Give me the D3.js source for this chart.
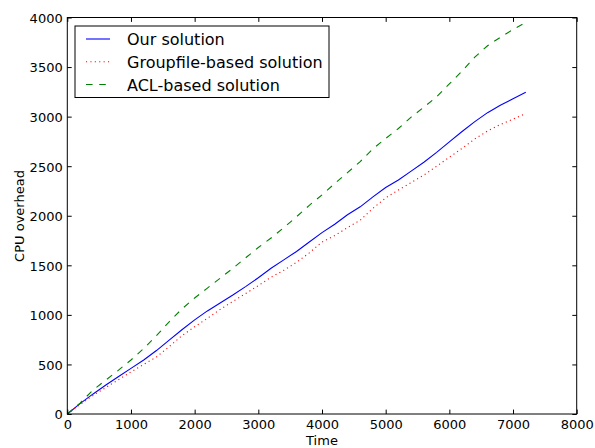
<!DOCTYPE html>
<html>
<head>
<meta charset="utf-8">
<script src="https://cdn.jsdelivr.net/npm/d3@7"></script>
<style>
  html, body { margin: 0; padding: 0; background: #fff; }
  svg { display: block; }
  text { font-family: "DejaVu Sans", sans-serif; fill: #000; }
</style>
</head>
<body>
<div id="chart"></div>
<script>
// ---- data ----
const times = [0,200,400,600,800,1000,1200,1400,1600,1800,2000,2200,2400,2600,2800,3000,3200,3400,3600,3800,4000,4200,4400,4600,4800,5000,5200,5400,5600,5800,6000,6200,6400,6600,6800,7000,7200];
const ourSolution = [0,105,200,290,375,460,545,640,745,850,950,1040,1120,1200,1285,1375,1470,1555,1640,1735,1830,1915,2010,2090,2190,2285,2360,2450,2540,2640,2745,2850,2950,3040,3115,3180,3245];
const groupfileSolution = [0,95,185,265,345,425,500,575,680,790,880,965,1055,1135,1215,1295,1380,1450,1530,1625,1735,1800,1880,1955,2075,2180,2260,2335,2410,2500,2590,2680,2775,2855,2920,2975,3030];
const aclSolution = [0,110,240,340,440,545,660,790,930,1060,1170,1270,1370,1470,1575,1680,1775,1880,1990,2105,2210,2325,2435,2546,2675,2780,2880,2995,3095,3200,3330,3460,3600,3715,3800,3880,3950];
const seriesNames = ["Our solution", "Groupfile-based solution", "ACL-based solution"];
const xTicks = [0,1000,2000,3000,4000,5000,6000,7000,8000];
const yTicks = [0,500,1000,1500,2000,2500,3000,3500,4000];
const xLabel = "Time";
const yLabel = "CPU overhead";

const W = 595, H = 448;
const L = 67.3, R = 576.7, T = 17.5, B = 414;

const svg = d3.select("#chart").append("svg").attr("width", W).attr("height", H);

const x = d3.scaleLinear().domain([0, 8000]).range([L, R]);
const y = d3.scaleLinear().domain([0, 4000]).range([B, T]);

const styles = [
  { color: "#0000ff", dash: null },
  { color: "#ff0000", dash: "1.1,3.3" },
  { color: "#008000", dash: "6.6,6.6" }
];
const allSeries = [ourSolution, groupfileSolution, aclSolution];

const line = d3.line().x((d, i) => x(times[i])).y(d => y(d));

allSeries.forEach((s, k) => {
  const p = svg.append("path").datum(s)
    .attr("d", line)
    .attr("fill", "none")
    .attr("stroke", styles[k].color)
    .attr("stroke-width", 1.1);
  if (styles[k].dash) p.attr("stroke-dasharray", styles[k].dash);
});

// axes: inward ticks on all four sides
const tickLen = 4.4;
const fmt = d3.format("d");
const axB = svg.append("g").attr("transform", `translate(0,${B})`)
  .call(d3.axisBottom(x).tickValues(xTicks).tickFormat(fmt).tickSizeInner(-tickLen).tickSizeOuter(0).tickPadding(4));
const axT = svg.append("g").attr("transform", `translate(0,${T})`)
  .call(d3.axisTop(x).tickValues(xTicks).tickFormat("").tickSizeInner(-tickLen).tickSizeOuter(0));
const axL = svg.append("g").attr("transform", `translate(${L},0)`)
  .call(d3.axisLeft(y).tickValues(yTicks).tickFormat(fmt).tickSizeInner(-tickLen).tickSizeOuter(0).tickPadding(4.6));
const axR = svg.append("g").attr("transform", `translate(${R},0)`)
  .call(d3.axisRight(y).tickValues(yTicks).tickFormat("").tickSizeInner(-tickLen).tickSizeOuter(0));

[axB, axT, axL, axR].forEach(g => {
  g.select(".domain").remove();
  g.selectAll(".tick line").attr("stroke", "#000").attr("stroke-width", 1);
  g.selectAll("text").attr("font-size", 13).attr("font-family", "DejaVu Sans").attr("fill", "#000");
});
axB.selectAll(".tick text").attr("dy", null).attr("y", 15.3);
axL.selectAll(".tick text").attr("dy", "0.37em");

// frame
svg.append("rect").attr("x", L).attr("y", T).attr("width", R - L).attr("height", B - T)
  .attr("fill", "none").attr("stroke", "#000").attr("stroke-width", 1);

// axis labels
svg.append("text").attr("x", (L + R) / 2).attr("y", 445).attr("text-anchor", "middle")
  .attr("font-size", 13).text(xLabel);
svg.append("text").attr("transform", `translate(24,216) rotate(-90)`).attr("text-anchor", "middle")
  .attr("font-size", 13).text(yLabel);

// legend
const lg = svg.append("g");
lg.append("rect").attr("x", 75).attr("y", 26).attr("width", 254).attr("height", 71.5)
  .attr("fill", "#fff").attr("stroke", "#000").attr("stroke-width", 1);
const rowY = [39, 61.7, 84.5];
seriesNames.forEach((name, k) => {
  const l = lg.append("line").attr("x1", 86).attr("x2", 110).attr("y1", rowY[k]).attr("y2", rowY[k])
    .attr("stroke", styles[k].color).attr("stroke-width", 1.1);
  if (styles[k].dash) l.attr("stroke-dasharray", styles[k].dash);
  lg.append("text").attr("x", 127).attr("y", rowY[k] + 6).attr("font-size", 16).text(name);
});
</script>
</body>
</html>
